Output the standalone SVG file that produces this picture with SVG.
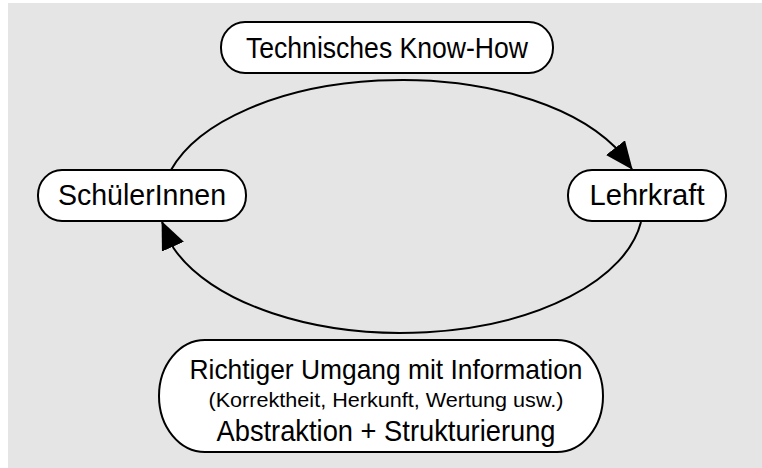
<svg xmlns="http://www.w3.org/2000/svg" width="762" height="468" viewBox="0 0 762 468">
<style>
.bg{fill:#e5e5e5}
.node{fill:#ffffff;stroke:#000000;stroke-width:2}
.lbl{font-family:"Liberation Sans",Arial,sans-serif;fill:#000000;text-anchor:middle}
.edge{fill:none;stroke:#000000;stroke-width:2}
</style>
<defs>
<marker id="arr" markerUnits="userSpaceOnUse" viewBox="0 0 28 24" refX="27" refY="12" markerWidth="28" markerHeight="24" orient="auto">
<path d="M0,0 L28,12 L0,24 z" fill="#000000"/>
</marker>
</defs>
<rect class="bg" x="8" y="3" width="754" height="465"/>
<g id="connectors">
<path class="edge" d="M171,170 A240.5,125 0 0 1 615,147 L632,169" marker-end="url(#arr)"/>
<path class="edge" d="M641,222 A241.9,128 0 0 1 173.5,248 L162,222" marker-end="url(#arr)"/>
</g>
<g id="n-technik">
<rect class="node" x="221" y="22" width="332" height="51" rx="24" ry="25"/>
<text class="lbl" x="387" y="58" font-size="30" textLength="282" lengthAdjust="spacingAndGlyphs">Technisches Know-How</text>
</g>
<g id="n-schueler">
<rect class="node" x="38" y="170" width="208" height="51" rx="24" ry="25"/>
<text class="lbl" x="142" y="205" font-size="30" textLength="168" lengthAdjust="spacingAndGlyphs">SchülerInnen</text>
</g>
<g id="n-lehrkraft">
<rect class="node" x="568" y="170" width="158" height="51" rx="24" ry="25"/>
<text class="lbl" x="647" y="205" font-size="30" textLength="115" lengthAdjust="spacingAndGlyphs">Lehrkraft</text>
</g>
<g id="n-info">
<rect class="node" x="159" y="340" width="444" height="112" rx="46" ry="56"/>
<text class="lbl" x="386" y="379" font-size="28" textLength="393" lengthAdjust="spacingAndGlyphs">Richtiger Umgang mit Information</text>
<text class="lbl" x="386" y="407" font-size="21" textLength="355" lengthAdjust="spacingAndGlyphs">(Korrektheit, Herkunft, Wertung usw.)</text>
<text class="lbl" x="386" y="441" font-size="30" textLength="339" lengthAdjust="spacingAndGlyphs">Abstraktion + Strukturierung</text>
</g>
</svg>
